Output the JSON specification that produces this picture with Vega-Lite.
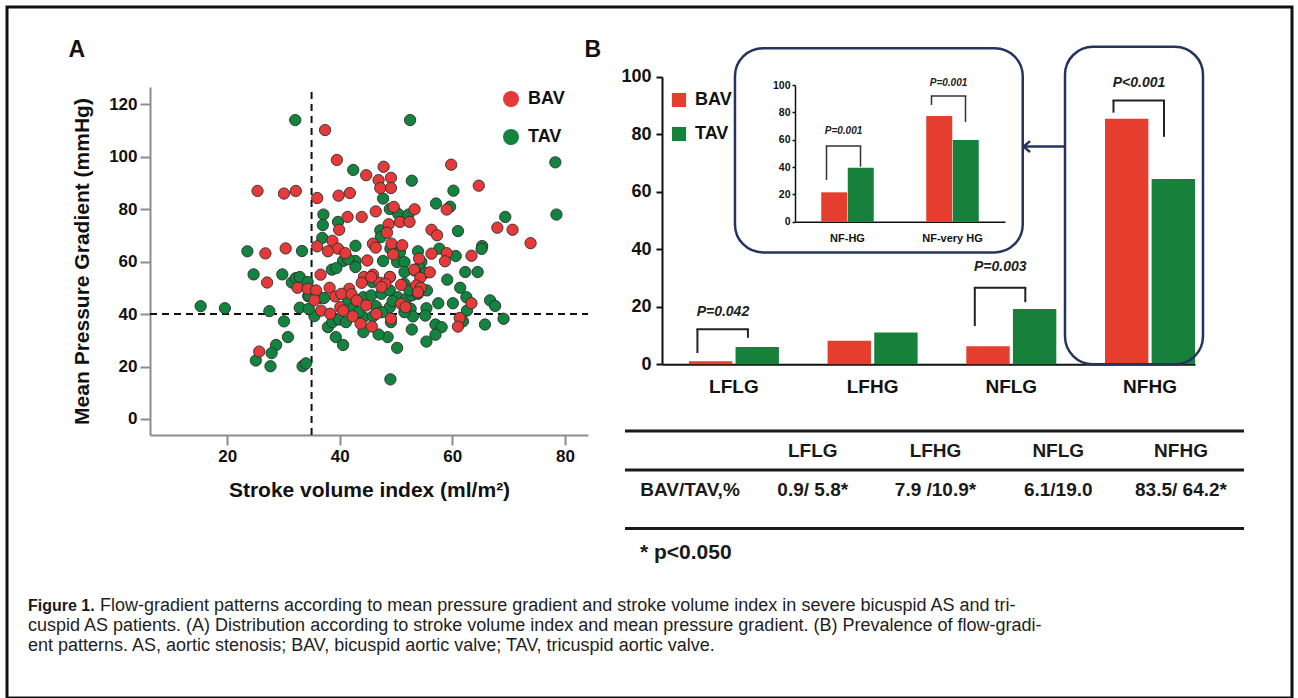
{
"$schema": "https://vega.github.io/schema/vega-lite/v6.json",
"width": 1285, "height": 691,
"autosize": {"type": "none"},
"padding": {"left": 7, "top": 7, "right": 6, "bottom": 0},
"background": "white",
"config": {"view": {"stroke": "#111111", "strokeWidth": 3}, "font": "Liberation Sans", "axis": {"grid": false, "labelFont": "Liberation Sans", "titleFont": "Liberation Sans"}, "legend": {"labelFont": "Liberation Sans"}},
"datasets": {
"svi": [
{"valve":"TAV","svi":32.1,"mpg":113.9},{"valve":"TAV","svi":52.5,"mpg":113.9},{"valve":"TAV","svi":78.3,"mpg":97.8},{"valve":"TAV","svi":78.5,"mpg":77.9},{"valve":"TAV","svi":42.4,"mpg":94.9},{"valve":"TAV","svi":52.8,"mpg":90.8},{"valve":"TAV","svi":47.7,"mpg":84.0},{"valve":"TAV","svi":60.2,"mpg":87.0},{"valve":"TAV","svi":57.1,"mpg":82.1},{"valve":"TAV","svi":59.6,"mpg":80.9},{"valve":"TAV","svi":48.9,"mpg":80.0},{"valve":"TAV","svi":50.4,"mpg":78.1},{"valve":"TAV","svi":52.2,"mpg":77.9},{"valve":"TAV","svi":37.1,"mpg":77.9},{"valve":"TAV","svi":39.7,"mpg":75.1},{"valve":"TAV","svi":37.0,"mpg":73.9},{"valve":"TAV","svi":47.2,"mpg":71.9},{"valve":"TAV","svi":61.0,"mpg":71.6},{"valve":"TAV","svi":47.3,"mpg":69.3},{"valve":"TAV","svi":36.9,"mpg":69.0},{"valve":"TAV","svi":69.4,"mpg":77.0},{"valve":"TAV","svi":42.8,"mpg":66.0},{"valve":"TAV","svi":65.3,"mpg":65.9},{"valve":"TAV","svi":65.2,"mpg":64.8},{"valve":"TAV","svi":23.6,"mpg":63.9},{"valve":"TAV","svi":33.3,"mpg":64.0},{"valve":"TAV","svi":53.9,"mpg":63.9},{"valve":"TAV","svi":49.0,"mpg":64.9},{"valve":"TAV","svi":50.7,"mpg":63.6},{"valve":"TAV","svi":57.7,"mpg":64.9},{"valve":"TAV","svi":60.6,"mpg":62.1},{"valve":"TAV","svi":40.6,"mpg":60.2},{"valve":"TAV","svi":42.8,"mpg":60.2},{"valve":"TAV","svi":47.7,"mpg":60.2},{"valve":"TAV","svi":50.2,"mpg":59.8},{"valve":"TAV","svi":51.5,"mpg":59.8},{"valve":"TAV","svi":41.5,"mpg":60.9},{"valve":"TAV","svi":42.8,"mpg":57.9},{"valve":"TAV","svi":38.6,"mpg":56.9},{"valve":"TAV","svi":39.4,"mpg":57.5},{"valve":"TAV","svi":54.5,"mpg":59.8},{"valve":"TAV","svi":54.1,"mpg":57.6},{"valve":"TAV","svi":51.5,"mpg":56.0},{"valve":"TAV","svi":55.2,"mpg":55.7},{"valve":"TAV","svi":62.3,"mpg":56.0},{"valve":"TAV","svi":64.5,"mpg":56.0},{"valve":"TAV","svi":24.7,"mpg":55.1},{"valve":"TAV","svi":29.8,"mpg":55.1},{"valve":"TAV","svi":59.1,"mpg":53.1},{"valve":"TAV","svi":31.5,"mpg":52.0},{"valve":"TAV","svi":32.2,"mpg":53.7},{"valve":"TAV","svi":32.9,"mpg":54.1},{"valve":"TAV","svi":34.3,"mpg":52.2},{"valve":"TAV","svi":45.8,"mpg":52.2},{"valve":"TAV","svi":48.9,"mpg":54.1},{"valve":"TAV","svi":51.5,"mpg":51.5},{"valve":"TAV","svi":61.4,"mpg":50.0},{"valve":"TAV","svi":34.4,"mpg":46.8},{"valve":"TAV","svi":36.4,"mpg":46.1},{"valve":"TAV","svi":37.2,"mpg":46.1},{"valve":"TAV","svi":41.5,"mpg":45.2},{"valve":"TAV","svi":44.2,"mpg":46.4},{"valve":"TAV","svi":45.6,"mpg":47.1},{"valve":"TAV","svi":47.4,"mpg":47.7},{"valve":"TAV","svi":48.9,"mpg":49.0},{"valve":"TAV","svi":50.3,"mpg":46.4},{"valve":"TAV","svi":51.8,"mpg":45.8},{"valve":"TAV","svi":52.8,"mpg":47.1},{"valve":"TAV","svi":52.4,"mpg":49.0},{"valve":"TAV","svi":55.5,"mpg":49.0},{"valve":"TAV","svi":55.4,"mpg":42.2},{"valve":"TAV","svi":57.5,"mpg":44.1},{"valve":"TAV","svi":60.1,"mpg":44.1},{"valve":"TAV","svi":62.5,"mpg":46.4},{"valve":"TAV","svi":66.7,"mpg":45.2},{"valve":"TAV","svi":67.6,"mpg":43.1},{"valve":"TAV","svi":62.6,"mpg":41.3},{"valve":"TAV","svi":61.9,"mpg":37.2},{"valve":"TAV","svi":69.1,"mpg":38.2},{"valve":"TAV","svi":65.8,"mpg":36.0},{"valve":"TAV","svi":57.0,"mpg":36.0},{"valve":"TAV","svi":58.1,"mpg":35.0},{"valve":"TAV","svi":57.0,"mpg":32.1},{"valve":"TAV","svi":55.4,"mpg":29.5},{"valve":"TAV","svi":52.8,"mpg":34.1},{"valve":"TAV","svi":50.2,"mpg":27.1},{"valve":"TAV","svi":48.5,"mpg":31.2},{"valve":"TAV","svi":49.1,"mpg":36.9},{"valve":"TAV","svi":46.9,"mpg":32.2},{"valve":"TAV","svi":44.2,"mpg":33.1},{"valve":"TAV","svi":40.6,"mpg":28.2},{"valve":"TAV","svi":39.3,"mpg":31.2},{"valve":"TAV","svi":37.9,"mpg":35.0},{"valve":"TAV","svi":38.7,"mpg":36.9},{"valve":"TAV","svi":39.9,"mpg":37.9},{"valve":"TAV","svi":41.1,"mpg":36.9},{"valve":"TAV","svi":44.2,"mpg":38.8},{"valve":"TAV","svi":45.9,"mpg":39.1},{"valve":"TAV","svi":46.4,"mpg":43.0},{"valve":"TAV","svi":42.4,"mpg":42.2},{"valve":"TAV","svi":43.3,"mpg":40.7},{"valve":"TAV","svi":48.9,"mpg":42.6},{"valve":"TAV","svi":49.4,"mpg":44.9},{"valve":"TAV","svi":52.6,"mpg":42.0},{"valve":"TAV","svi":53.0,"mpg":39.1},{"valve":"TAV","svi":35.5,"mpg":39.2},{"valve":"TAV","svi":34.6,"mpg":47.1},{"valve":"TAV","svi":32.9,"mpg":42.4},{"valve":"TAV","svi":34.5,"mpg":42.0},{"valve":"TAV","svi":27.5,"mpg":41.1},{"valve":"TAV","svi":19.6,"mpg":42.2},{"valve":"TAV","svi":15.3,"mpg":43.0},{"valve":"TAV","svi":30.1,"mpg":37.2},{"valve":"TAV","svi":30.8,"mpg":31.2},{"valve":"TAV","svi":28.7,"mpg":28.2},{"valve":"TAV","svi":27.9,"mpg":25.1},{"valve":"TAV","svi":25.1,"mpg":22.3},{"valve":"TAV","svi":27.7,"mpg":20.1},{"valve":"TAV","svi":33.4,"mpg":20.1},{"valve":"TAV","svi":34.0,"mpg":21.2},{"valve":"TAV","svi":49.0,"mpg":15.1},{"valve":"TAV","svi":55.2,"mpg":39.4},{"valve":"TAV","svi":51.5,"mpg":40.7},{"valve":"TAV","svi":47.5,"mpg":40.7},{"valve":"TAV","svi":53.9,"mpg":47.7},{"valve":"TAV","svi":53.3,"mpg":56.6},
{"valve":"BAV","svi":37.4,"mpg":110.1},{"valve":"BAV","svi":39.5,"mpg":98.7},{"valve":"BAV","svi":59.8,"mpg":96.9},{"valve":"BAV","svi":47.8,"mpg":96.1},{"valve":"BAV","svi":44.7,"mpg":92.9},{"valve":"BAV","svi":46.9,"mpg":91.0},{"valve":"BAV","svi":49.1,"mpg":91.9},{"valve":"BAV","svi":49.1,"mpg":88.0},{"valve":"BAV","svi":47.2,"mpg":88.0},{"valve":"BAV","svi":64.7,"mpg":88.9},{"valve":"BAV","svi":25.4,"mpg":86.9},{"valve":"BAV","svi":30.1,"mpg":85.9},{"valve":"BAV","svi":32.2,"mpg":86.9},{"valve":"BAV","svi":36.0,"mpg":84.2},{"valve":"BAV","svi":39.8,"mpg":85.1},{"valve":"BAV","svi":41.8,"mpg":86.1},{"valve":"BAV","svi":46.4,"mpg":79.1},{"valve":"BAV","svi":49.6,"mpg":80.8},{"valve":"BAV","svi":53.3,"mpg":79.9},{"valve":"BAV","svi":59.0,"mpg":79.8},{"valve":"BAV","svi":43.9,"mpg":77.0},{"valve":"BAV","svi":41.4,"mpg":77.0},{"valve":"BAV","svi":50.7,"mpg":75.1},{"valve":"BAV","svi":52.4,"mpg":75.1},{"valve":"BAV","svi":48.7,"mpg":74.2},{"valve":"BAV","svi":68.0,"mpg":72.9},{"valve":"BAV","svi":70.7,"mpg":72.1},{"valve":"BAV","svi":39.9,"mpg":72.1},{"valve":"BAV","svi":56.3,"mpg":72.1},{"valve":"BAV","svi":57.3,"mpg":70.0},{"valve":"BAV","svi":48.4,"mpg":71.0},{"valve":"BAV","svi":73.9,"mpg":67.0},{"valve":"BAV","svi":38.7,"mpg":67.9},{"valve":"BAV","svi":39.7,"mpg":64.9},{"valve":"BAV","svi":36.0,"mpg":65.8},{"valve":"BAV","svi":37.9,"mpg":63.9},{"valve":"BAV","svi":45.9,"mpg":66.8},{"valve":"BAV","svi":46.4,"mpg":65.3},{"valve":"BAV","svi":49.2,"mpg":66.8},{"valve":"BAV","svi":51.1,"mpg":66.2},{"valve":"BAV","svi":59.0,"mpg":63.2},{"valve":"BAV","svi":56.3,"mpg":63.0},{"valve":"BAV","svi":63.4,"mpg":62.2},{"valve":"BAV","svi":26.8,"mpg":63.1},{"valve":"BAV","svi":30.4,"mpg":65.0},{"valve":"BAV","svi":41.0,"mpg":63.2},{"valve":"BAV","svi":44.9,"mpg":60.4},{"valve":"BAV","svi":58.7,"mpg":60.1},{"valve":"BAV","svi":49.5,"mpg":62.7},{"valve":"BAV","svi":54.1,"mpg":61.1},{"valve":"BAV","svi":53.2,"mpg":56.9},{"valve":"BAV","svi":56.0,"mpg":55.9},{"valve":"BAV","svi":54.3,"mpg":53.8},{"valve":"BAV","svi":36.6,"mpg":55.0},{"valve":"BAV","svi":44.3,"mpg":54.1},{"valve":"BAV","svi":45.9,"mpg":55.0},{"valve":"BAV","svi":48.9,"mpg":54.1},{"valve":"BAV","svi":50.9,"mpg":51.1},{"valve":"BAV","svi":27.1,"mpg":52.0},{"valve":"BAV","svi":32.5,"mpg":50.0},{"valve":"BAV","svi":34.3,"mpg":49.6},{"valve":"BAV","svi":35.8,"mpg":49.0},{"valve":"BAV","svi":38.2,"mpg":50.0},{"valve":"BAV","svi":41.7,"mpg":49.6},{"valve":"BAV","svi":43.9,"mpg":51.9},{"valve":"BAV","svi":47.1,"mpg":51.9},{"valve":"BAV","svi":53.6,"mpg":50.9},{"valve":"BAV","svi":54.4,"mpg":50.0},{"valve":"BAV","svi":39.2,"mpg":46.7},{"valve":"BAV","svi":40.3,"mpg":47.7},{"valve":"BAV","svi":42.1,"mpg":47.5},{"valve":"BAV","svi":43.0,"mpg":45.2},{"valve":"BAV","svi":44.7,"mpg":43.3},{"valve":"BAV","svi":35.5,"mpg":45.2},{"valve":"BAV","svi":36.7,"mpg":41.3},{"valve":"BAV","svi":40.1,"mpg":42.6},{"valve":"BAV","svi":40.6,"mpg":41.3},{"valve":"BAV","svi":42.3,"mpg":39.1},{"valve":"BAV","svi":43.7,"mpg":36.3},{"valve":"BAV","svi":45.7,"mpg":35.2},{"valve":"BAV","svi":46.5,"mpg":40.1},{"valve":"BAV","svi":49.1,"mpg":38.2},{"valve":"BAV","svi":50.9,"mpg":43.9},{"valve":"BAV","svi":53.9,"mpg":48.3},{"valve":"BAV","svi":63.4,"mpg":44.1},{"valve":"BAV","svi":61.3,"mpg":38.5},{"valve":"BAV","svi":61.0,"mpg":35.2},{"valve":"BAV","svi":25.7,"mpg":25.7},{"valve":"BAV","svi":48.1,"mpg":51.5},{"valve":"BAV","svi":45.6,"mpg":54.1},{"valve":"BAV","svi":47.4,"mpg":50.3},{"valve":"BAV","svi":51.7,"mpg":42.6},{"valve":"BAV","svi":38.3,"mpg":40.1}
],
"bars": [
{"cat":"LFLG","valve":"BAV","pct":1.1},{"cat":"LFLG","valve":"TAV","pct":6.0},
{"cat":"LFHG","valve":"BAV","pct":8.2},{"cat":"LFHG","valve":"TAV","pct":11.1},
{"cat":"NFLG","valve":"BAV","pct":6.3},{"cat":"NFLG","valve":"TAV","pct":19.2},
{"cat":"NFHG","valve":"BAV","pct":85.4},{"cat":"NFHG","valve":"TAV","pct":64.4}
],
"brackets": [
{"cat":"LFLG","top":12.2,"lb":3.9,"rb":9.2,"ty":18.3,"p":"P=0.042"},
{"cat":"NFLG","top":26.6,"lb":13.3,"rb":21.6,"ty":33.9,"p":"P=0.003"},
{"cat":"NFHG","top":91.7,"lb":87.5,"rb":79.1,"ty":97.9,"p":"P<0.001"}
],
"inset": [
{"grp":"NF-HG","valve":"BAV","pct":21.5},{"grp":"NF-HG","valve":"TAV","pct":39.5},
{"grp":"NF-very HG","valve":"BAV","pct":77.3},{"grp":"NF-very HG","valve":"TAV","pct":59.8}
],
"insetBrackets": [
{"grp":"NF-HG","top":55.4,"lb":30.5,"rb":40.2,"ty":66.6,"p":"P=0.001"},
{"grp":"NF-very HG","top":92,"lb":85.4,"rb":72.9,"ty":101.7,"p":"P=0.001"}
],
"table": [
{"row":"head","col":"LFLG","text":"LFLG"},{"row":"head","col":"LFHG","text":"LFHG"},{"row":"head","col":"NFLG","text":"NFLG"},{"row":"head","col":"NFHG","text":"NFHG"},
{"row":"data","col":"label","text":"BAV/TAV,%"},{"row":"data","col":"LFLG","text":"0.9/ 5.8*"},{"row":"data","col":"LFHG","text":"7.9 /10.9*"},{"row":"data","col":"NFLG","text":"6.1/19.0"},{"row":"data","col":"NFHG","text":"83.5/ 64.2*"}
],
"tableLines": [{"line":"l1"},{"line":"l2"},{"line":"l3"}],
"captionBold": [{"line":"1","indent":"start","text":"Figure 1."}],
"caption": [
{"line":"1","indent":"after","text":"Flow-gradient patterns according to mean pressure gradient and stroke volume index in severe bicuspid AS and tri-"},
{"line":"2","indent":"start","text":"cuspid AS patients. (A) Distribution according to stroke volume index and mean pressure gradient. (B) Prevalence of flow-gradi-"},
{"line":"3","indent":"start","text":"ent patterns. AS, aortic stenosis; BAV, bicuspid aortic valve; TAV, tricuspid aortic valve."}
]
},
"layer": [
{
"layer": [
{"data": {"values": [{}]},
 "mark": {"type": "rule", "strokeDash": [7, 5], "strokeWidth": 2, "color": "#111111"},
 "encoding": {"x": {"datum": 35, "type": "quantitative"}, "y": {"datum": -6.1, "type": "quantitative"}, "y2": {"datum": 126.5}}},
{"data": {"values": [{}]},
 "mark": {"type": "rule", "strokeDash": [7, 5], "strokeWidth": 2, "color": "#111111"},
 "encoding": {"y": {"datum": 40, "type": "quantitative"}, "x": {"datum": 6.3, "type": "quantitative"}, "x2": {"datum": 84.1}}},
{"data": {"name": "svi"},
 "mark": {"type": "point", "filled": true, "size": 128, "opacity": 1, "stroke": "#2e2e2e", "strokeWidth": 0.9},
 "encoding": {
  "x": {"field": "svi", "type": "quantitative",
        "scale": {"domain": [6.3, 84.1], "range": [143, 581], "nice": false, "zero": false},
        "axis": {"orient": "bottom", "offset": -263, "values": [20, 40, 60, 80], "title": "Stroke volume index (ml/m²)", "titleFontSize": 21, "titleFontWeight": "bold", "titlePadding": 15, "titleColor": "#111111", "labelFontSize": 17, "labelFontWeight": "bold", "labelColor": "#111111", "labelPadding": 3, "tickSize": 10, "tickWidth": 2, "tickColor": "#8c8c8c", "domainColor": "#8c8c8c", "domainWidth": 2}},
  "y": {"field": "mpg", "type": "quantitative",
        "scale": {"domain": [-6.1, 126.5], "range": [428, 80], "nice": false, "zero": false},
        "axis": {"orient": "left", "offset": -143, "values": [0, 20, 40, 60, 80, 100, 120], "title": "Mean Pressure Gradient (mmHg)", "titleFontSize": 21, "titleFontWeight": "bold", "titlePadding": 16, "titleColor": "#111111", "labelFontSize": 17, "labelFontWeight": "bold", "labelColor": "#111111", "labelPadding": 3, "tickSize": 10, "tickWidth": 2, "tickColor": "#8c8c8c", "domainColor": "#8c8c8c", "domainWidth": 2}},
  "color": {"field": "valve", "type": "nominal",
        "scale": {"domain": ["BAV", "TAV"], "range": ["#e63a3a", "#12843f"]},
        "legend": {"orient": "none", "legendX": 495, "legendY": 83, "title": null, "padding": 0, "labelFontSize": 18, "labelFontWeight": "bold", "labelColor": "#111111", "symbolType": "circle", "symbolSize": 256, "symbolStrokeWidth": 0, "symbolOpacity": 1, "rowPadding": 20, "labelOffset": 8}}
 }},
{"data": {"values": [{}]},
 "mark": {"type": "text", "text": "A", "fontSize": 23, "fontWeight": "bold", "color": "#111111", "baseline": "middle", "align": "center"},
 "encoding": {"x": {"datum": -6.7, "type": "quantitative"}, "y": {"datum": 140.6, "type": "quantitative"}}}
]
},
{
"layer": [
{"data": {"name": "bars"},
 "mark": {"type": "bar"},
 "encoding": {
  "x": {"field": "cat", "type": "nominal",
        "scale": {"type": "band", "domain": ["LFLG", "LFHG", "NFLG", "NFHG"], "range": [655, 1188], "paddingInner": 0.351, "paddingOuter": 0.097, "align": 1},
        "axis": {"orient": "bottom", "offset": -333.7, "title": null, "ticks": false, "labelAngle": 0, "labelFontSize": 19, "labelFontWeight": "bold", "labelColor": "#111111", "labelPadding": 13, "domainColor": "#111111", "domainWidth": 2}},
  "xOffset": {"field": "valve", "type": "nominal", "scale": {"domain": ["BAV", "TAV"], "paddingInner": 0.07, "paddingOuter": 0}},
  "y": {"field": "pct", "type": "quantitative",
        "scale": {"domain": [0, 100], "range": [357.3, 69.7], "nice": false, "zero": false},
        "axis": {"orient": "left", "offset": -655, "values": [0, 20, 40, 60, 80, 100], "title": null, "labelFontSize": 18, "labelFontWeight": "bold", "labelColor": "#111111", "labelPadding": 5, "tickSize": 6, "tickWidth": 2, "tickColor": "#111111", "domainColor": "#111111", "domainWidth": 2}},
  "color": {"field": "valve", "type": "nominal",
        "scale": {"domain": ["BAV", "TAV"], "range": ["#e53d2e", "#17803b"]},
        "legend": {"orient": "none", "legendX": 663, "legendY": 84, "title": null, "padding": 0, "labelFontSize": 18, "labelFontWeight": "bold", "labelColor": "#111111", "symbolType": "square", "symbolSize": 200, "symbolStrokeWidth": 0, "symbolOpacity": 1, "rowPadding": 16, "labelOffset": 7}}
 }},
{"data": {"name": "brackets"},
 "mark": {"type": "rule", "strokeWidth": 2, "color": "#222222", "xOffset": -36.5},
 "encoding": {"x": {"field": "cat", "type": "nominal"}, "y": {"field": "top", "type": "quantitative"}, "y2": {"field": "lb"}}},
{"data": {"name": "brackets"},
 "mark": {"type": "rule", "strokeWidth": 2, "color": "#222222", "xOffset": 14},
 "encoding": {"x": {"field": "cat", "type": "nominal"}, "y": {"field": "top", "type": "quantitative"}, "y2": {"field": "rb"}}},
{"data": {"name": "brackets"},
 "mark": {"type": "tick", "orient": "horizontal", "size": 52.5, "thickness": 2, "color": "#222222", "xOffset": -11.25, "opacity": 1},
 "encoding": {"x": {"field": "cat", "type": "nominal"}, "y": {"field": "top", "type": "quantitative"}}},
{"data": {"name": "brackets"},
 "mark": {"type": "text", "fontSize": 14, "fontWeight": "bold", "fontStyle": "italic", "color": "#222222", "xOffset": -11, "baseline": "middle", "align": "center"},
 "encoding": {"x": {"field": "cat", "type": "nominal"}, "y": {"field": "ty", "type": "quantitative"}, "text": {"field": "p"}}},
{"data": {"values": [{}]},
 "mark": {"type": "bar", "width": {"band": 1.533}, "xOffset": -16, "cornerRadius": 28, "fillOpacity": 0, "stroke": "#26335f", "strokeWidth": 2.5},
 "encoding": {"x": {"datum": "NFHG"}, "y": {"datum": 110.4, "type": "quantitative"}, "y2": {"datum": 0}}},
{"data": {"values": [{}]},
 "mark": {"type": "bar", "width": {"band": 3.197}, "xOffset": 6.25, "cornerRadius": 28, "fillOpacity": 0, "stroke": "#26335f", "strokeWidth": 2.5},
 "encoding": {"x": {"datum": "LFHG"}, "y": {"datum": 109.9, "type": "quantitative"}, "y2": {"datum": 38.9}}},
{"data": {"values": [{}]},
 "mark": {"type": "tick", "orient": "horizontal", "size": 42, "thickness": 2.5, "color": "#26335f", "xOffset": -106, "opacity": 1},
 "encoding": {"x": {"datum": "NFHG"}, "y": {"datum": 75.7, "type": "quantitative"}}},
{"data": {"values": [{}]},
 "mark": {"type": "point", "shape": "M 0.6 -1 L -0.6 0 L 0.6 1", "size": 120, "filled": false, "stroke": "#26335f", "strokeWidth": 2.5, "opacity": 1, "xOffset": 15.5},
 "encoding": {"x": {"datum": "NFLG"}, "y": {"datum": 75.7, "type": "quantitative"}}},
{"data": {"values": [{}]},
 "mark": {"type": "text", "text": "B", "fontSize": 23, "fontWeight": "bold", "color": "#111111", "xOffset": -141, "baseline": "middle", "align": "center"},
 "encoding": {"x": {"datum": "LFLG"}, "y": {"datum": 109.3, "type": "quantitative"}}}
]
},
{
"layer": [
{"data": {"name": "inset"},
 "mark": {"type": "bar"},
 "encoding": {
  "x": {"field": "grp", "type": "nominal",
        "scale": {"type": "band", "domain": ["NF-HG", "NF-very HG"], "range": [788, 998], "paddingInner": 0.5, "paddingOuter": 0.25, "align": 0.5},
        "axis": {"orient": "bottom", "offset": -476.3, "title": null, "ticks": false, "labelAngle": 0, "labelFontSize": 11, "labelFontWeight": "bold", "labelColor": "#111111", "labelPadding": 11, "domainColor": "#111111", "domainWidth": 1.5}},
  "xOffset": {"field": "valve", "type": "nominal", "scale": {"domain": ["BAV", "TAV"], "paddingInner": 0.02, "paddingOuter": 0}},
  "y": {"field": "pct", "type": "quantitative",
        "scale": {"domain": [0, 100], "range": [214.7, 78], "nice": false, "zero": false},
        "axis": {"orient": "left", "offset": -788, "values": [0, 20, 40, 60, 80, 100], "title": null, "labelFontSize": 10.5, "labelFontWeight": "bold", "labelColor": "#111111", "labelPadding": 2, "tickSize": 3, "tickWidth": 1.5, "tickColor": "#111111", "domainColor": "#111111", "domainWidth": 1.5}},
  "color": {"field": "valve", "type": "nominal", "scale": {"domain": ["BAV", "TAV"], "range": ["#e53d2e", "#17803b"]}, "legend": null}
 }},
{"data": {"name": "insetBrackets"},
 "mark": {"type": "rule", "strokeWidth": 1.5, "color": "#333333", "xOffset": -21},
 "encoding": {"x": {"field": "grp", "type": "nominal"}, "y": {"field": "top", "type": "quantitative"}, "y2": {"field": "lb"}}},
{"data": {"name": "insetBrackets"},
 "mark": {"type": "rule", "strokeWidth": 1.5, "color": "#333333", "xOffset": 13},
 "encoding": {"x": {"field": "grp", "type": "nominal"}, "y": {"field": "top", "type": "quantitative"}, "y2": {"field": "rb"}}},
{"data": {"name": "insetBrackets"},
 "mark": {"type": "tick", "orient": "horizontal", "size": 35.5, "thickness": 1.5, "color": "#333333", "xOffset": -4, "opacity": 1},
 "encoding": {"x": {"field": "grp", "type": "nominal"}, "y": {"field": "top", "type": "quantitative"}}},
{"data": {"name": "insetBrackets"},
 "mark": {"type": "text", "fontSize": 10, "fontWeight": "bold", "fontStyle": "italic", "color": "#222222", "xOffset": -4, "baseline": "middle", "align": "center"},
 "encoding": {"x": {"field": "grp", "type": "nominal"}, "y": {"field": "ty", "type": "quantitative"}, "text": {"field": "p"}}}
]
},
{
"layer": [
{"data": {"name": "tableLines"},
 "mark": {"type": "rule", "strokeWidth": 3, "color": "#1a1a1a", "xOffset": -65, "x2Offset": 63},
 "encoding": {
  "y": {"field": "line", "type": "nominal", "scale": {"type": "point", "domain": ["l1", "head", "l2", "data", "gap", "l3", "note"], "range": [424, 541], "padding": 0}, "axis": null},
  "x": {"datum": "label", "scale": {"type": "point", "domain": ["label", "LFLG", "LFHG", "NFLG", "NFHG"], "range": [683, 1174], "padding": 0}, "axis": null},
  "x2": {"datum": "NFHG"}
 }},
{"data": {"name": "table"},
 "mark": {"type": "text", "fontSize": 19, "fontWeight": "bold", "color": "#1a1a1a", "baseline": "middle", "align": "center"},
 "encoding": {"x": {"field": "col", "type": "nominal"}, "y": {"field": "row", "type": "nominal"}, "text": {"field": "text"}}},
{"data": {"values": [{"note": "* p<0.050"}]},
 "mark": {"type": "text", "fontSize": 21, "fontWeight": "bold", "color": "#1a1a1a", "baseline": "middle", "align": "left", "xOffset": -50, "yOffset": 5},
 "encoding": {"x": {"datum": "label"}, "y": {"datum": "note"}, "text": {"field": "note"}}}
]
},
{
"layer": [
{"data": {"name": "captionBold"},
 "mark": {"type": "text", "font": "Liberation Sans", "fontSize": 16, "fontWeight": "bold", "color": "#1a1a1a", "baseline": "middle", "align": "left"},
 "encoding": {
  "x": {"field": "indent", "type": "nominal", "scale": {"type": "point", "domain": ["start", "after"], "range": [21, 93], "padding": 0}, "axis": null},
  "y": {"field": "line", "type": "nominal", "scale": {"type": "point", "domain": ["1", "2", "3"], "range": [599, 639], "padding": 0}, "axis": null},
  "text": {"field": "text"}}},
{"data": {"name": "caption"},
 "mark": {"type": "text", "fontSize": 18, "color": "#1e1e1e", "baseline": "middle", "align": "left"},
 "encoding": {"x": {"field": "indent", "type": "nominal"}, "y": {"field": "line", "type": "nominal"}, "text": {"field": "text"}}}
]
}
],
"resolve": {"scale": {"x": "independent", "y": "independent", "color": "independent", "xOffset": "independent"}, "axis": {"x": "independent", "y": "independent"}, "legend": {"color": "independent"}}
}
